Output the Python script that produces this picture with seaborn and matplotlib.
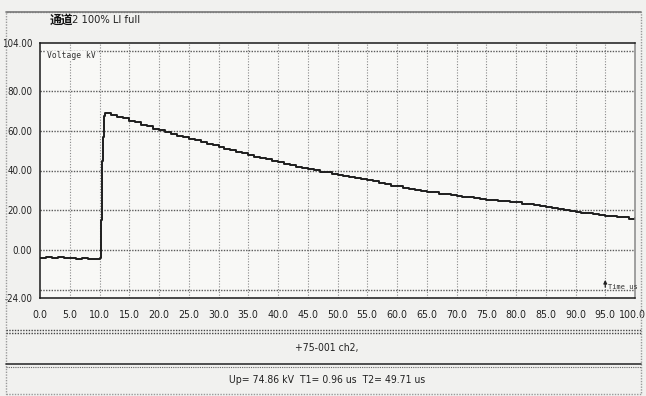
import matplotlib
matplotlib.use("Agg")
import matplotlib.pyplot as plt
import matplotlib.transforms as mtransforms
import seaborn as sns
import pandas as pd
from matplotlib.lines import Line2D
from matplotlib.patches import Rectangle
from matplotlib import font_manager as fm

# ---------------- data ----------------
time_us = [0, 1, 2, 3, 4, 5, 6, 7, 8, 9, 10, 10.1, 10.2, 10.3, 10.4, 10.5, 10.6, 10.7, 10.8, 10.9,
           11, 12, 13, 14, 15, 16, 17, 18, 19, 20, 21, 22, 23, 24, 25, 26, 27, 28, 29, 30,
           31, 32, 33, 34, 35, 36, 37, 38, 39, 40, 41, 42, 43, 44, 45, 46, 47, 48, 49, 50,
           51, 52, 53, 54, 55, 56, 57, 58, 59, 60, 61, 62, 63, 64, 65, 66, 67, 68, 69, 70,
           71, 72, 73, 74, 75, 76, 77, 78, 79, 80, 81, 82, 83, 84, 85, 86, 87, 88, 89, 90,
           91, 92, 93, 94, 95, 96, 97, 98, 99, 100]
voltage_kv = [-3.8, -3.5, -3.9, -3.6, -4.1, -3.9, -4.3, -4.0, -4.6, -4.2, -4.4, -4.0, 2.0, 15.0, 30.0, 45.0, 57.0, 64.0, 67.5, 68.8,
              69.0, 68.0, 67.0, 66.2, 65.0, 64.2, 63.0, 62.4, 61.0, 60.2, 59.3, 58.4, 57.4, 56.8, 55.8, 55.2, 54.2, 53.5, 52.6, 51.9,
              51.0, 50.2, 49.3, 48.6, 47.6, 47.0, 46.2, 45.8, 45.0, 44.5, 43.5, 42.8, 42.0, 41.5, 40.8, 40.2, 39.4, 39.0, 38.2, 37.7,
              37.0, 36.7, 36.0, 35.6, 35.0, 34.5, 33.6, 33.2, 32.4, 32.0, 31.3, 30.8, 30.2, 29.8, 29.2, 29.0, 28.4, 28.2, 27.6, 27.4,
              26.8, 26.6, 26.0, 25.8, 25.3, 25.2, 24.7, 24.6, 24.1, 24.0, 23.3, 23.0, 22.5, 22.2, 21.6, 21.4, 20.6, 20.4, 19.7, 19.4,
              18.8, 18.7, 18.0, 17.9, 17.3, 17.4, 16.6, 16.8, 15.8, 16.0]

x_ticks = [0, 5, 10, 15, 20, 25, 30, 35, 40, 45, 50, 55, 60, 65, 70, 75, 80, 85, 90, 95, 100]
x_labels = ["0.0", "5.0", "10.0", "15.0", "20.0", "25.0", "30.0", "35.0", "40.0", "45.0", "50.0",
            "55.0", "60.0", "65.0", "70.0", "75.0", "80.0", "85.0", "90.0", "95.0", "100.0"]
y_ticks = [-24, 0, 20, 40, 60, 80, 104]
y_labels = ["-24.00", "0.00", "20.00", "40.00", "60.00", "80.00", "104.00"]
h_grid = [-20, 0, 20, 40, 60, 80, 100]

title_cjk = "通道"
title_rest = "2 100% LI full"
y_name = "Voltage kV"
x_name = "Time us"
channel_text = "+75-001 ch2,"
result_text = "Up= 74.86 kV  T1= 0.96 us  T2= 49.71 us"

df = pd.DataFrame({"t": time_us, "v": voltage_kv})

# ---------------- figure ----------------
sns.set_theme(style="white")
cond = [f for f in fm.fontManager.ttflist
        if ("Condensed" in f.fname or "Narrow" in f.fname)
        and not any(k in f.fname for k in ("Bold", "Oblique", "Italic"))]
if cond:
    FAM = cond[0].name
    plt.rcParams["font.family"] = [FAM, "DejaVu Sans"]
    plt.rcParams["font.stretch"] = cond[0].stretch
else:
    FAM = "Liberation Sans"
    plt.rcParams["font.family"] = [FAM, "DejaVu Sans"]

fig = plt.figure(figsize=(6.46, 3.96), dpi=100, facecolor="#f1f1ef")
W, H = 646, 396
ax = fig.add_axes([40 / W, 1 - 298 / H, (635 - 40) / W, (298 - 43) / H])
ax.set_facecolor("#f8f8f6")

sns.lineplot(data=df, x="t", y="v", ax=ax, color="#1e1e1e", linewidth=1.4,
             estimator=None, drawstyle="steps-post")

ax.set_xlim(0, 100)
ax.set_ylim(-24, 104)
ax.set_xticks(x_ticks)
ax.set_xticklabels(x_labels)
ax.set_yticks(y_ticks)
ax.set_yticklabels(y_labels)
ax.set_xlabel("")
ax.set_ylabel("")
ax.tick_params(axis="both", direction="out", width=1, color="#222222", labelcolor="#222222")
ax.tick_params(axis="y", length=4, pad=1.5, labelsize=7)
ax.tick_params(axis="x", length=5, pad=4, labelsize=7.6)

# nudge the last x label so it stays inside the picture
last = ax.get_xticklabels()[-1]
last.set_transform(last.get_transform() + mtransforms.ScaledTranslation(-3 / 100, 0, fig.dpi_scale_trans))

for xv in x_ticks[1:-1]:
    ax.axvline(xv, color="#8a8a8a", lw=0.8, ls=(0, (1, 1.5)), zorder=0)
for yv in h_grid:
    ax.axhline(yv, color="#5a5a5a", lw=1.0, ls=(0, (1, 1)), zorder=0)

for side, sp in ax.spines.items():
    sp.set_visible(True)
    sp.set_color("#1a1a1a")
    sp.set_linewidth(1.1)
ax.spines["right"].set_color("#888888")
ax.spines["right"].set_linestyle((0, (1, 1)))

ax.text(1.2, 97.5, y_name, fontsize=5.8, family="DejaVu Sans Mono", color="#333333",
        va="center", ha="left", bbox=dict(facecolor="#f8f8f6", edgecolor="none", pad=0.5))
ax.annotate("", xy=(95, -13.5), xytext=(95, -20),
            arrowprops=dict(arrowstyle="-|>", color="#222222", lw=0.9, mutation_scale=5))
ax.text(95.4, -18.5, x_name, fontsize=5, family="DejaVu Sans Mono", color="#333333",
        va="center", ha="left")

fig.text(50 / W, 1 - 20 / H, title_cjk, fontsize=8.5, color="#111111",
         family=["Noto Sans CJK SC"], fontweight="bold", va="center", ha="left")
fig.text(72 / W, 1 - 20 / H, title_rest, fontsize=8, color="#222222", va="center", ha="left")

frame = Rectangle((6 / W, 2 / H), 635 / W, 382 / H, transform=fig.transFigure,
                  fill=False, edgecolor="#9a9a9a", lw=1.0, ls=(0, (1, 1)))
fig.add_artist(frame)
fig.add_artist(Line2D([6 / W, 641 / W], [1 - 12 / H, 1 - 12 / H], transform=fig.transFigure,
                      color="#777777", lw=1.2))
fig.add_artist(Line2D([6 / W, 641 / W], [1 - 330 / H, 1 - 330 / H], transform=fig.transFigure,
                      color="#444444", lw=1.0, ls=(0, (1, 1))))
fig.add_artist(Line2D([6 / W, 641 / W], [1 - 332.5 / H, 1 - 332.5 / H], transform=fig.transFigure,
                      color="#444444", lw=1.0, ls=(0, (1, 1))))
fig.add_artist(Line2D([6 / W, 641 / W], [1 - 364 / H, 1 - 364 / H], transform=fig.transFigure,
                      color="#333333", lw=1.2))
fig.add_artist(Line2D([6 / W, 641 / W], [1 - 367 / H, 1 - 367 / H], transform=fig.transFigure,
                      color="#666666", lw=0.8, ls=(0, (1, 1))))

fig.text(327 / W, 1 - 348 / H, channel_text, fontsize=7.5, color="#222222", ha="center", va="center")
fig.text(327 / W, 1 - 380 / H, result_text, fontsize=7.5, color="#222222", ha="center", va="center")

fig.savefig("out.png", dpi=100, facecolor=fig.get_facecolor())
